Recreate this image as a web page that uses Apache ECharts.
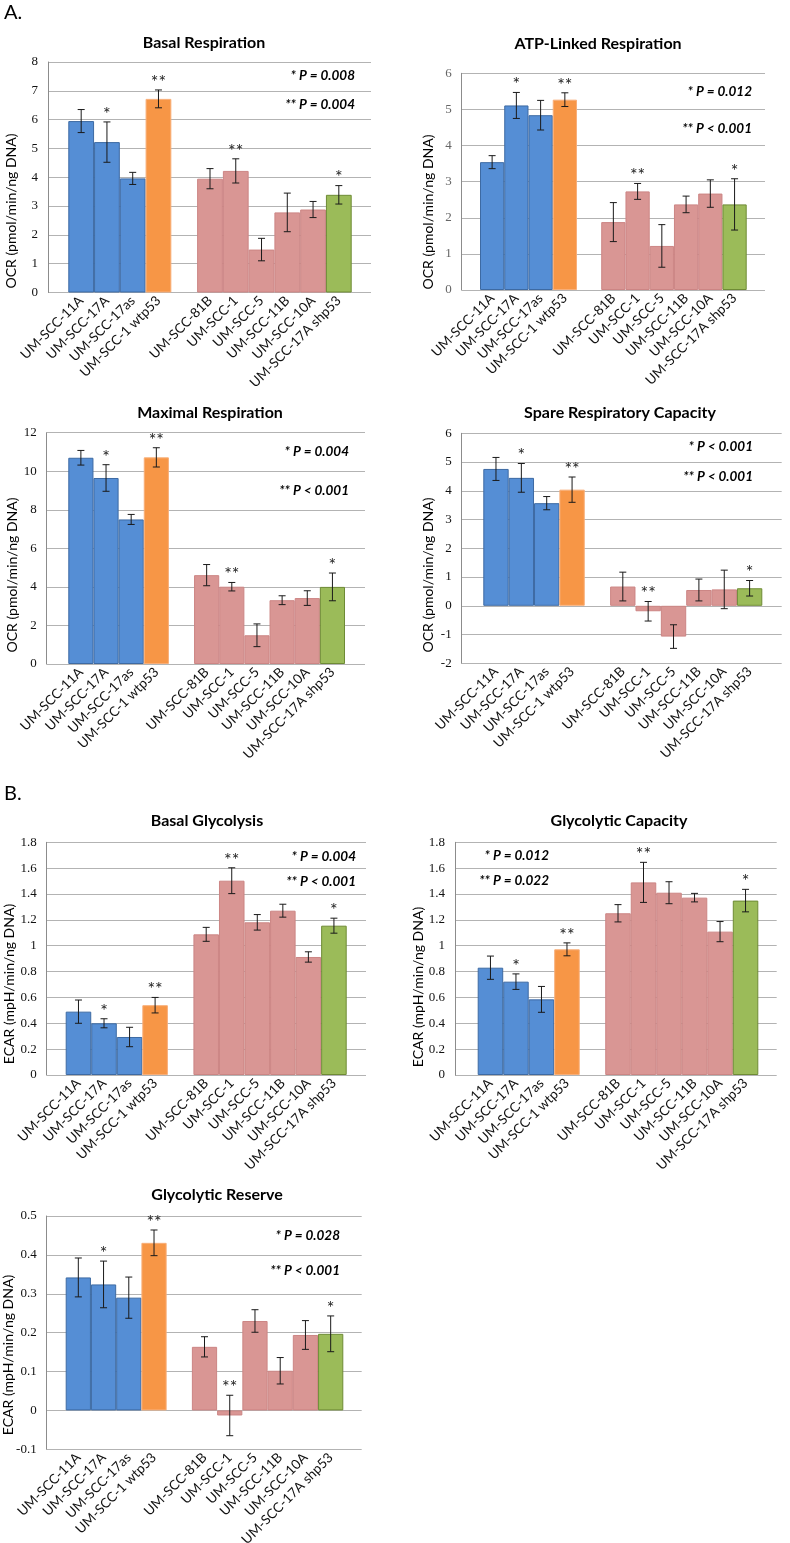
<!DOCTYPE html>
<html>
<head>
<meta charset="utf-8">
<script src="https://cdn.jsdelivr.net/npm/echarts@6/dist/echarts.min.js"></script>
<style>
html,body{margin:0;padding:0;background:#fff;}
#chart{width:790px;height:1543px;}
</style>
</head>
<body>
<div id="chart"></div>
<script>
// ---------- DATA ----------
const categories = ['UM-SCC-11A','UM-SCC-17A','UM-SCC-17as','UM-SCC-1 wtp53','','UM-SCC-81B','UM-SCC-1','UM-SCC-5','UM-SCC-11B','UM-SCC-10A','UM-SCC-17A shp53'];
const sigMarks = ['', '*', '', '**', '', '', '**', '', '', '', '*'];

const basalRespMean = [5.95, 5.22, 3.96, 6.72, null, 3.95, 4.22, 1.49, 2.78, 2.88, 3.39];
const basalRespErr  = [0.40, 0.70, 0.21, 0.31, null, 0.35, 0.42, 0.39, 0.67, 0.28, 0.32];

const atpMean = [3.54, 5.11, 4.84, 5.27, null, 1.88, 2.73, 1.22, 2.37, 2.67, 2.37];
const atpErr  = [0.18, 0.36, 0.41, 0.19, null, 0.54, 0.22, 0.59, 0.23, 0.38, 0.71];

const maxRespMean = [10.70, 9.65, 7.50, 10.72, null, 4.61, 4.01, 1.49, 3.31, 3.42, 4.00];
const maxRespErr  = [0.38, 0.69, 0.26, 0.50, null, 0.55, 0.22, 0.59, 0.23, 0.38, 0.72];

const spareMean = [4.76, 4.45, 3.57, 4.04, null, 0.67, -0.19, -1.07, 0.55, 0.57, 0.61];
const spareErr  = [0.40, 0.50, 0.23, 0.44, null, 0.50, 0.34, 0.41, 0.38, 0.67, 0.27];

const basalGlyMean = [0.49, 0.40, 0.294, 0.54, null, 1.088, 1.503, 1.181, 1.271, 0.913, 1.155];
const basalGlyErr  = [0.09, 0.035, 0.075, 0.06, null, 0.054, 0.10, 0.06, 0.05, 0.04, 0.058];

const glyCapMean = [0.83, 0.722, 0.585, 0.972, null, 1.251, 1.49, 1.41, 1.372, 1.109, 1.349];
const glyCapErr  = [0.09, 0.06, 0.10, 0.05, null, 0.067, 0.155, 0.085, 0.033, 0.078, 0.087];

const glyResMean = [0.342, 0.324, 0.290, 0.431, null, 0.1635, -0.013, 0.230, 0.102, 0.194, 0.197];
const glyResErr  = [0.05, 0.06, 0.053, 0.033, null, 0.026, 0.052, 0.029, 0.034, 0.037, 0.046];

const ocrTitle = 'OCR (pmol/min/ng DNA)';
const ecarTitle = 'ECAR (mpH/min/ng DNA)';

const basalRespP = ['* P = 0.008', '** P = 0.004'];
const atpP = ['* P = 0.012', '** P < 0.001'];
const maxRespP = ['* P = 0.004', '** P < 0.001'];
const spareP = ['* P < 0.001', '** P < 0.001'];
const basalGlyP = ['* P = 0.004', '** P < 0.001'];
const glyCapP = ['* P = 0.012', '** P = 0.022'];
const glyResP = ['* P = 0.028', '** P < 0.001'];

// ---------- STYLE ----------
const fillColors   = ['#558ED5','#558ED5','#558ED5','#F79646','#fff','#D99694','#D99694','#D99694','#D99694','#D99694','#9BBB59'];
const borderColors = ['#3D6AA3','#3D6AA3','#3D6AA3','#F8AE78','#fff','#CC8584','#CC8584','#CC8584','#CC8584','#CC8584','#6E8B35'];

// ---------- LAYOUT ----------
const panels = [
  {title:'Basal Respiration', mean:basalRespMean, err:basalRespErr, min:0, max:8, interval:1, yName:ocrTitle, p:basalRespP,
   top:62, height:230.5, wl:48, ww:323, nl:68.3, nw:283.4, tx:204, ty:43, nx:11, ny:211, px:355, py:[76,105], tickColor:'#111'},
  {title:'ATP-Linked Respiration', mean:atpMean, err:atpErr, min:0, max:6, interval:1, yName:ocrTitle, p:atpP,
   top:73.3, height:216.7, wl:461.7, ww:303.3, nl:480, nw:266.7, tx:598, ty:44, nx:428, ny:212, px:752, py:[92,129], tickColor:'#666'},
  {title:'Maximal Respiration', mean:maxRespMean, err:maxRespErr, min:0, max:12, interval:2, yName:ocrTitle, p:maxRespP,
   top:432.7, height:231.3, wl:46.7, ww:318.3, nl:68.3, nw:276.7, tx:210, ty:413, nx:12, ny:575, px:349, py:[452,491], tickColor:'#111'},
  {title:'Spare Respiratory Capacity', mean:spareMean, err:spareErr, min:-2, max:6, interval:1, yName:ocrTitle, p:spareP,
   top:433.3, height:230, wl:461.7, ww:320, nl:483.3, nw:279, tx:620, ty:413, nx:428, ny:575, px:753, py:[447,477], tickColor:'#111'},
  {title:'Basal Glycolysis', mean:basalGlyMean, err:basalGlyErr, min:0, max:1.8, interval:0.2, yName:ecarTitle, p:basalGlyP,
   top:842.3, height:232.7, wl:46.7, ww:319.3, nl:65.7, nw:281, tx:207, ty:821, nx:9, ny:984, px:356, py:[857,882], tickColor:'#111'},
  {title:'Glycolytic Capacity', mean:glyCapMean, err:glyCapErr, min:0, max:1.8, interval:0.2, yName:ecarTitle, p:glyCapP,
   top:842.3, height:232.7, wl:455, ww:321.7, nl:477.7, nw:280.6, tx:619, ty:821, nx:418, ny:987, px:549, py:[856,881], tickColor:'#111'},
  {title:'Glycolytic Reserve', mean:glyResMean, err:glyResErr, min:-0.1, max:0.5, interval:0.1, yName:ecarTitle, p:glyResP,
   top:1216, height:233.3, wl:46.7, ww:315, nl:65.7, nw:277.6, tx:217, ty:1195, nx:8, ny:1355, px:340, py:[1236,1271], tickColor:'#111'}
];

const FONT = 'Lato, "Open Sans", sans-serif';
const grids = [], xAxes = [], yAxes = [], series = [], graphics = [];

graphics.push({type:'text', x:4, y:13, style:{text:'A.', font:'20px ' + FONT, fill:'#000', verticalAlign:'middle'}});
graphics.push({type:'text', x:4, y:794, style:{text:'B.', font:'20px ' + FONT, fill:'#000', verticalAlign:'middle'}});

panels.forEach((pn, k) => {
  const gW = grids.length, gN = gW + 1;
  grids.push({left:pn.wl, top:pn.top, width:pn.ww, height:pn.height, containLabel:false, outerBoundsMode:'none'});
  grids.push({left:pn.nl, top:pn.top, width:pn.nw, height:pn.height, containLabel:false, outerBoundsMode:'none'});
  // wide grid: visible y axis + gridlines
  xAxes.push({type:'category', gridIndex:gW, data:categories, show:false});
  yAxes.push({type:'value', gridIndex:gW, min:pn.min, max:pn.max, interval:pn.interval,
    axisLine:{show:true, lineStyle:{color:'#8c8c8c', width:1}}, axisTick:{show:false},
    axisLabel:{fontFamily:'"Liberation Serif", "DejaVu Serif", serif', fontSize:13, color:pn.tickColor, margin:10},
    splitLine:{show:true, lineStyle:{color:'#b3b3b3', width:1}}});
  // narrow grid: bars + category labels
  xAxes.push({type:'category', gridIndex:gN, data:categories, boundaryGap:true,
    axisLine:{show:false}, axisTick:{show:false},
    axisLabel:{interval:0, rotate:45, margin:6, fontFamily:FONT, fontSize:13.5, color:'#111'}});
  yAxes.push({type:'value', gridIndex:gN, min:pn.min, max:pn.max, interval:pn.interval, show:false, splitLine:{show:false}});
  const xi = xAxes.length - 1, yi = yAxes.length - 1;
  series.push({type:'bar', xAxisIndex:xi, yAxisIndex:yi, barCategoryGap:'0%', barGap:'0%', z:3,
    data: pn.mean.map((v, i) => v == null ? '-' : {value:v, itemStyle:{color:fillColors[i], borderColor:borderColors[i], borderWidth:1}})});
  const errData = [];
  pn.mean.forEach((v, i) => { if (v != null) errData.push([i, v - pn.err[i], v + pn.err[i]]); });
  series.push({type:'custom', xAxisIndex:xi, yAxisIndex:yi, z:5, clip:false,
    encode:{x:0, y:[1,2]}, data:errData,
    renderItem: function (params, api) {
      const idx = api.value(0);
      const lo = api.coord([idx, api.value(1)]);
      const hi = api.coord([idx, api.value(2)]);
      const c = 3.5;
      const st = {stroke:'#1a1a1a', lineWidth:1};
      const children = [
        {type:'line', shape:{x1:lo[0], y1:lo[1], x2:hi[0], y2:hi[1]}, style:st},
        {type:'line', shape:{x1:lo[0]-c, y1:lo[1], x2:lo[0]+c, y2:lo[1]}, style:st},
        {type:'line', shape:{x1:hi[0]-c, y1:hi[1], x2:hi[0]+c, y2:hi[1]}, style:st}
      ];
      const mk = sigMarks[idx];
      if (mk) children.push({type:'text', x:hi[0], y:hi[1] + 1,
        style:{text:mk, font:'18px ' + FONT, fill:'#222', align:'center', verticalAlign:'bottom'}});
      return {type:'group', children:children};
    }});
  graphics.push({type:'text', x:pn.tx, y:pn.ty, style:{text:pn.title, font:'bold 16px ' + FONT, fill:'#000', align:'center', verticalAlign:'middle'}});
  graphics.push({type:'text', x:pn.nx, y:pn.ny, rotation:Math.PI/2, style:{text:pn.yName, font:'14px ' + FONT, fill:'#000', align:'center', verticalAlign:'middle'}});
  pn.p.forEach((t, j) => {
    graphics.push({type:'text', x:pn.px, y:pn.py[j], style:{text:t, font:'italic bold 13.5px ' + FONT, fill:'#000', align:'right', verticalAlign:'middle'}});
  });
});

const chart = echarts.init(document.getElementById('chart'), null, {renderer:'canvas'});
chart.setOption({
  backgroundColor:'#fff',
  animation:false,
  grid:grids, xAxis:xAxes, yAxis:yAxes, series:series, graphic:graphics
});
</script>
</body>
</html>
